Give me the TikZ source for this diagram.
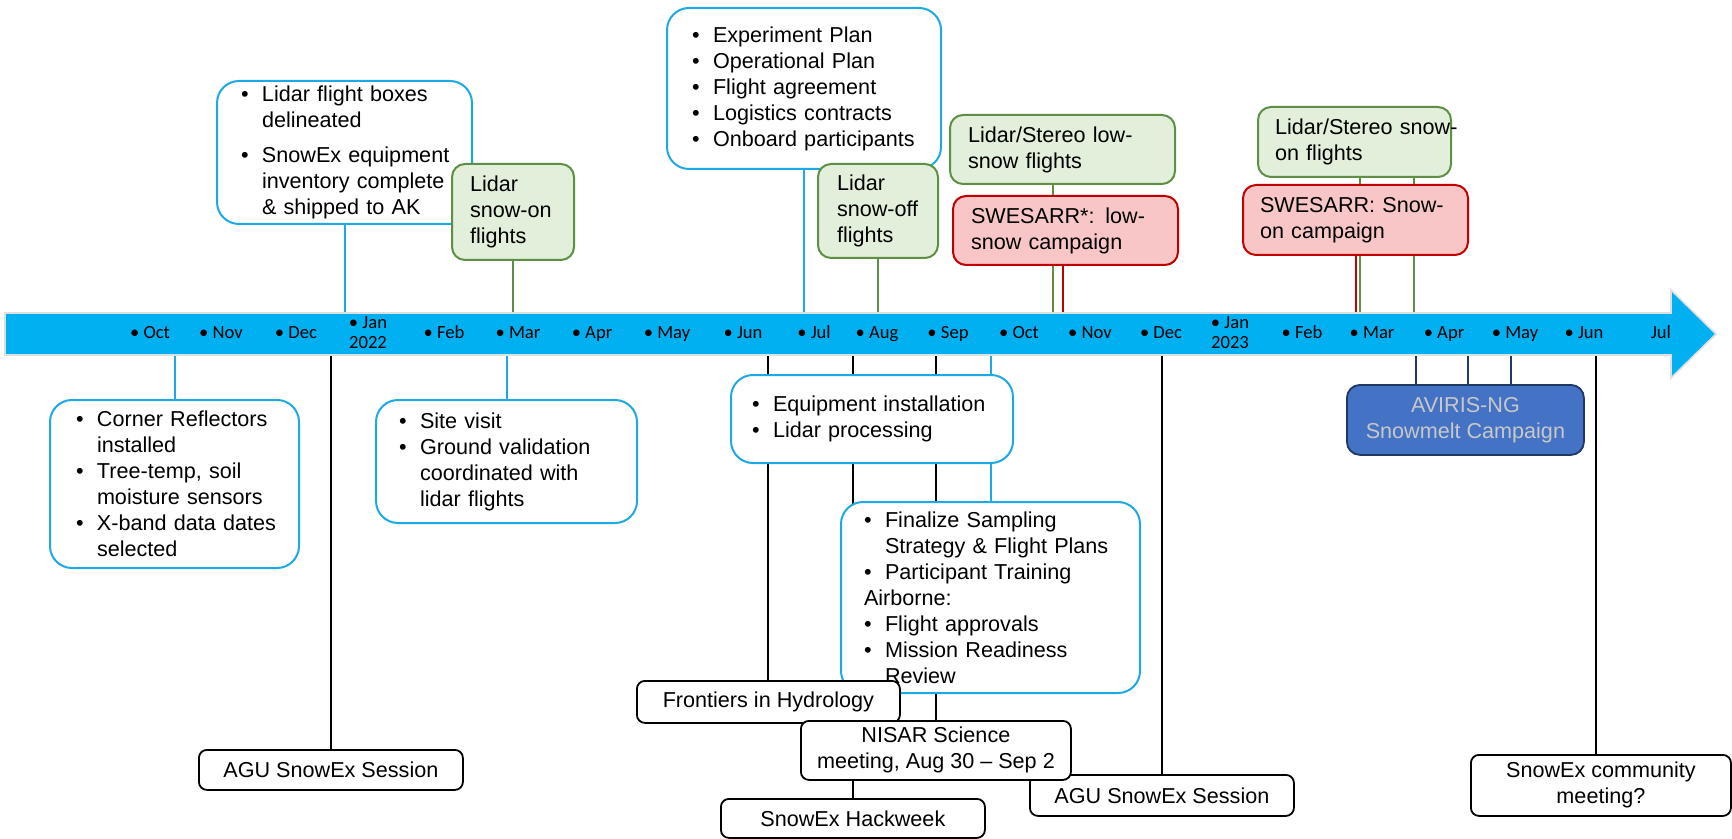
\documentclass[tikz,border=0pt]{standalone}
\usepackage{fontspec}
\setmainfont{Liberation Sans}
\newfontfamily\monthfont{Carlito}
\usetikzlibrary{backgrounds}

\definecolor{arrowblue}{HTML}{00B0F0}
\definecolor{lineblue}{HTML}{1DA9E3}
\definecolor{greenfill}{HTML}{E2EFDA}
\definecolor{greenline}{HTML}{5F8F45}
\definecolor{redfill}{HTML}{F8C6C6}
\definecolor{redline}{HTML}{C00000}
\definecolor{navyfill}{HTML}{4472C4}
\definecolor{navyline}{HTML}{203864}
\definecolor{navytext}{HTML}{C8C8C8}

\newcommand{\bl}[1]{\makebox[10.5pt][l]{\textbullet}\mbox{#1}}
\newcommand{\cl}[1]{\hspace*{10.5pt}\mbox{#1}}

\tikzset{
  txt/.style={font=\fontsize{10.8}{13}\selectfont, inner ysep=0pt, anchor=north west},
  bluebox/.style={txt, draw=lineblue, line width=1pt, fill=white, rounded corners=11pt, align=left, inner xsep=0pt},
  greenbox/.style={txt, draw=greenline, line width=1pt, fill=greenfill, rounded corners=6.5pt, align=left, inner xsep=0pt},
  redbox/.style={txt, draw=redline, line width=1pt, fill=redfill, rounded corners=6.5pt, align=left, inner xsep=0pt},
  blackbox/.style={txt, draw=black, line width=0.9pt, fill=white, rounded corners=4pt, align=center},
  navybox/.style={txt, draw=navyline, line width=0.9pt, fill=navyfill, text=navytext, rounded corners=6.5pt, align=center},
  month/.style={font=\monthfont\fontsize{9.3}{10}\selectfont, inner sep=0pt},
  link/.style={line width=1pt},
}

\begin{document}
\begin{tikzpicture}[x=0.5pt, y=-0.5pt]
\useasboundingbox (0,0) rectangle (1732,839);

% timeline arrow
\filldraw[fill=arrowblue, draw=gray!25, line width=0.8pt]
  (5,313) -- (1671,313) -- (1671,290) -- (1716,334) -- (1671,378) -- (1671,355) -- (5,355) -- cycle;
\coordinate (atop) at (0,313);
\coordinate (abot) at (0,355);

\foreach \mx/\mn in {150/Oct,221/Nov,296/Dec,444/Feb,518/Mar,592/Apr,667/May,743/Jun,814/Jul,
                     877/Aug,948/Sep,1019/Oct,1090/Nov,1161/Dec,1302/Feb,1372/Mar,1444/Apr,1515/May,1584/Jun}
  \node[month, anchor=base] (mon\mx) at (\mx,338) {\textbullet\ \mn};
\node[month, anchor=base] (jul23) at (1661,338) {Jul};
\node[month, anchor=north, align=center] (jan22) at (368,316) {\textbullet\ Jan\\2022};
\node[month, anchor=north, align=center] (jan23) at (1230,316) {\textbullet\ Jan\\2023};

% above the timeline
\node[bluebox, minimum width=127.5pt, minimum height=71.5pt, text width=103.5pt] (lidarbox) at (216,80)
  {\bl{Lidar flight boxes}\\\cl{delineated}\\[4.5pt]\bl{SnowEx equipment}\\\cl{inventory complete}\\\cl{\& shipped to AK}};
\node[greenbox, minimum width=61pt, minimum height=48pt, text width=43pt] (snowon) at (451,163)
  {Lidar\\\mbox{snow-on}\\flights};
\node[bluebox, minimum width=137pt, minimum height=80.5pt, text width=112pt] (planbox) at (666,7)
  {\bl{Experiment Plan}\\\bl{Operational Plan}\\\bl{Flight agreement}\\\bl{Logistics contracts}\\\bl{Onboard participants}};
\node[greenbox, minimum width=60pt, minimum height=47pt, text width=41pt] (snowoff) at (817,163)
  {Lidar\\\mbox{snow-off}\\flights};
\node[greenbox, minimum width=112.5pt, minimum height=34.5pt, text width=94.5pt] (lowsnow) at (949,114)
  {\mbox{Lidar/Stereo low-}\\\mbox{snow flights}};
\node[redbox, minimum width=112.5pt, minimum height=34.5pt, text width=94.5pt] (swesarr1) at (952,195)
  {\mbox{SWESARR*: low-}\\\mbox{snow campaign}};
\node[greenbox, minimum width=96.5pt, minimum height=35pt, text width=79.5pt] (snowonflt) at (1257,106)
  {\mbox{Lidar/Stereo snow-}\\\mbox{on flights}};
\node[redbox, minimum width=112.5pt, minimum height=35pt, text width=95.5pt] (swesarr2) at (1242,184)
  {\mbox{SWESARR: Snow-}\\\mbox{on campaign}};

% below the timeline
\node[bluebox, minimum width=124.5pt, minimum height=84pt, text width=98.5pt] (cornerbox) at (49,399)
  {\bl{Corner Reflectors}\\\cl{installed}\\\bl{Tree-temp, soil}\\\cl{moisture sensors}\\\bl{X-band data dates}\\\cl{selected}};
\node[bluebox, minimum width=130.5pt, minimum height=61.5pt, text width=107.5pt] (sitebox) at (375,399)
  {\bl{Site visit}\\\bl{Ground validation}\\\cl{coordinated with}\\\cl{lidar flights}};
\node[bluebox, minimum width=141pt, minimum height=44pt, text width=120pt] (equipbox) at (730,374)
  {\bl{Equipment installation}\\\bl{Lidar processing}};
\node[bluebox, minimum width=149.5pt, minimum height=95.5pt, text width=126.5pt] (finalbox) at (840,501)
  {\bl{Finalize Sampling}\\\cl{Strategy \& Flight Plans}\\\bl{Participant Training}\\Airborne:\\\bl{Flight approvals}\\\bl{Mission Readiness}\\\cl{Review}};
\node[blackbox, minimum width=131.5pt, minimum height=21pt] (frontiers) at (636,680) {Frontiers in Hydrology};
\node[blackbox, minimum width=132pt, minimum height=20.5pt] (agu2) at (1029,774) {AGU SnowEx Session};
\node[blackbox, minimum width=135pt, minimum height=29.5pt] (nisar) at (800,720) {NISAR Science\\meeting, Aug 30 – Sep 2};
\node[blackbox, minimum width=132pt, minimum height=19.5pt] (hackweek) at (720,798) {SnowEx Hackweek};
\node[blackbox, minimum width=132pt, minimum height=20pt] (agu1) at (198,749) {AGU SnowEx Session};
\node[navybox, minimum width=118.5pt, minimum height=35pt] (aviris) at (1346,384) {AVIRIS-NG\\Snowmelt Campaign};
\node[blackbox, minimum width=130pt, minimum height=30.5pt] (community) at (1470,754) {SnowEx community\\meeting?};

\coordinate (ls) at ([xshift=-4.75pt]lowsnow.south);
\coordinate (sw1) at ([xshift=-1.25pt]swesarr1.south);
\coordinate (son1) at ([xshift=2.75pt]snowonflt.south);
\coordinate (son2) at ([xshift=29.75pt]snowonflt.south);
\coordinate (av1) at ([xshift=-24.75pt]aviris.north);
\coordinate (av2) at ([xshift=1.25pt]aviris.north);
\coordinate (av3) at ([xshift=22.75pt]aviris.north);
\coordinate (cm) at ([xshift=-2.5pt]community.north);

\begin{scope}[on background layer]
  \draw[link, lineblue] (lidarbox.south) -- (lidarbox.south |- atop);
  \draw[link, lineblue] (planbox.south) -- (planbox.south |- atop);
  \draw[link, lineblue] (cornerbox.north) -- (cornerbox.north |- abot);
  \draw[link, lineblue] (sitebox.north) -- (sitebox.north |- abot);
  \draw[link, lineblue] (finalbox.north) -- (finalbox.north |- abot);
  \draw[link, greenline] (snowon.south) -- (snowon.south |- atop);
  \draw[link, greenline] (snowoff.south) -- (snowoff.south |- atop);
  \draw[link, greenline] (ls) -- (ls |- atop);
  \draw[link, greenline] (son1) -- (son1 |- atop);
  \draw[link, greenline] (son2) -- (son2 |- atop);
  \draw[link, redline] (sw1) -- (sw1 |- atop);
  \draw[link, redline] (swesarr2.south) -- (swesarr2.south |- atop);
  \draw[link] (agu1.north) -- (agu1.north |- abot);
  \draw[link] (frontiers.north) -- (frontiers.north |- abot);
  \draw[link] (nisar.north) -- (nisar.north |- abot);
  \draw[link] (hackweek.north) -- (hackweek.north |- abot);
  \draw[link] (agu2.north) -- (agu2.north |- abot);
  \draw[link] (cm) -- (cm |- abot);
  \draw[link, navyline] (av1) -- (av1 |- abot);
  \draw[link, navyline] (av2) -- (av2 |- abot);
  \draw[link, navyline] (av3) -- (av3 |- abot);
\end{scope}
\end{tikzpicture}
\end{document}
